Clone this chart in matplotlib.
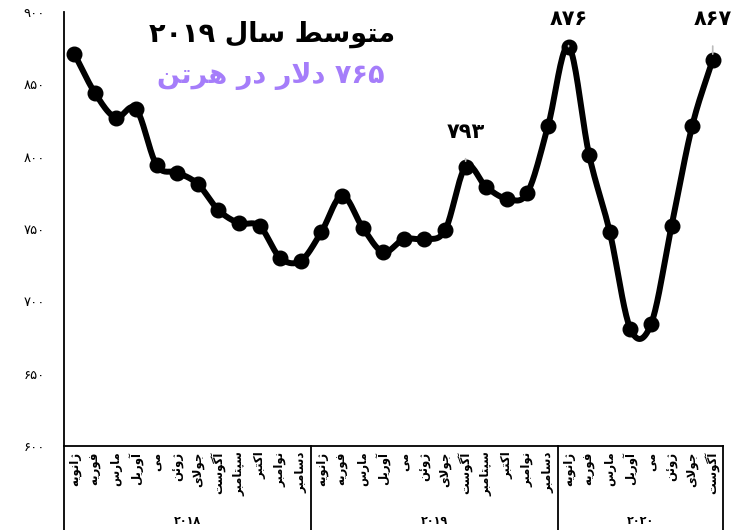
import re
import numpy as np
import matplotlib.pyplot as plt
from matplotlib.transforms import blended_transform_factory

months = ['ژانویه', 'فوریه', 'مارس', 'آوریل', 'می', 'ژوئن', 'جولای',
          'آگوست', 'سپتامبر', 'اکتبر', 'نوامبر', 'دسامبر']
years = ['2018', '2019', '2020']
months_per_year = [12, 12, 8]
prices = [871, 844, 827, 833, 794, 789, 781, 763, 754, 752, 730, 728,
          748, 773, 751, 734, 743, 743, 749, 793, 779, 771, 775, 821,
          876, 801, 748, 681, 684, 752, 821, 867]
labeled_points = [19, 24, 31]
label_raise = [25, 20, 29]  # points above the marker
title_line1 = 'متوسط سال 2019'
title_line2 = '765 دلار در هرتن'
y_ticks = [600, 650, 700, 750, 800, 850, 900]

# --- very small arabic shaper, matplotlib does not join letters itself ---
# isolated, final, initial, medial
FORMS = {
    'ا': (0xFE8D, 0xFE8E), 'آ': (0xFE81, 0xFE82),
    'د': (0xFEA9, 0xFEAA), 'ذ': (0xFEAB, 0xFEAC),
    'ر': (0xFEAD, 0xFEAE), 'ز': (0xFEAF, 0xFEB0),
    'ژ': (0xFB8A, 0xFB8B), 'و': (0xFEED, 0xFEEE),
    'ب': (0xFE8F, 0xFE90, 0xFE91, 0xFE92), 'پ': (0xFB56, 0xFB57, 0xFB58, 0xFB59),
    'ت': (0xFE95, 0xFE96, 0xFE97, 0xFE98), 'ج': (0xFE9D, 0xFE9E, 0xFE9F, 0xFEA0),
    'س': (0xFEB1, 0xFEB2, 0xFEB3, 0xFEB4), 'ط': (0xFEC1, 0xFEC2, 0xFEC3, 0xFEC4),
    'ف': (0xFED1, 0xFED2, 0xFED3, 0xFED4), 'ک': (0xFB8E, 0xFB8F, 0xFB90, 0xFB91),
    'گ': (0xFB92, 0xFB93, 0xFB94, 0xFB95), 'ل': (0xFEDD, 0xFEDE, 0xFEDF, 0xFEE0),
    'م': (0xFEE1, 0xFEE2, 0xFEE3, 0xFEE4), 'ن': (0xFEE5, 0xFEE6, 0xFEE7, 0xFEE8),
    'ه': (0xFEE9, 0xFEEA, 0xFEEB, 0xFEEC), 'ی': (0xFBFC, 0xFBFD, 0xFBFE, 0xFBFF),
    'ئ': (0xFE89, 0xFE8A, 0xFE8B, 0xFE8C),
}
LAM_ALEF = {'ا': (0xFEFB, 0xFEFC), 'آ': (0xFEF5, 0xFEF6)}
FA_DIGITS = str.maketrans('0123456789', '۰۱۲۳۴۵۶۷۸۹')


def dual(c):
    return c in FORMS and len(FORMS[c]) == 4


def shape(text):
    out = []
    i = 0
    while i < len(text):
        c = text[i]
        if c not in FORMS:
            out.append(c)
            i += 1
            continue
        prev = text[i - 1] if i > 0 else ''
        nxt = text[i + 1] if i + 1 < len(text) else ''
        jp = dual(prev)
        if c == 'ل' and nxt in LAM_ALEF:
            out.append(chr(LAM_ALEF[nxt][1 if jp else 0]))
            i += 2
            continue
        jn = dual(c) and nxt in FORMS
        f = FORMS[c]
        if jp and jn:
            out.append(chr(f[3]))
        elif jn:
            out.append(chr(f[2]))
        elif jp:
            out.append(chr(f[1]))
        else:
            out.append(chr(f[0]))
        i += 1
    return ''.join(out)


def fa(text):
    s = shape(str(text).translate(FA_DIGITS))
    runs = re.findall(r'[۰-۹]+|[^۰-۹]+', s)
    return ''.join(r if r[0] in '۰۱۲۳۴۵۶۷۸۹' else r[::-1] for r in reversed(runs))


def smooth(x, y, n=20):
    # catmull-rom curve through the points, like the spreadsheet "smoothed line"
    px = np.concatenate([[2 * x[0] - x[1]], x, [2 * x[-1] - x[-2]]])
    py = np.concatenate([[2 * y[0] - y[1]], y, [2 * y[-1] - y[-2]]])
    t = np.linspace(0, 1, n, endpoint=False)
    xs, ys = [], []
    for k in range(1, len(px) - 2):
        for p, store in ((px, xs), (py, ys)):
            p0, p1, p2, p3 = p[k - 1], p[k], p[k + 1], p[k + 2]
            store.append(0.5 * (2 * p1 + (-p0 + p2) * t
                                + (2 * p0 - 5 * p1 + 4 * p2 - p3) * t ** 2
                                + (-p0 + 3 * p1 - 3 * p2 + p3) * t ** 3))
    xs.append([x[-1]])
    ys.append([y[-1]])
    return np.concatenate(xs), np.concatenate(ys)


plt.rcParams['font.family'] = 'DejaVu Sans'

fig = plt.figure(figsize=(7.48, 5.30), dpi=100)
ax = fig.add_axes([0.0856, 0.1585, 0.881, 0.819])

x = np.arange(len(prices))
sx, sy = smooth(x.astype(float), np.array(prices, dtype=float))
ax.plot(sx, sy, color='black', lw=4.3, solid_capstyle='round', zorder=2)
ax.plot(x, prices, 'o', color='black', ms=10.5, zorder=3)

for i, up in zip(labeled_points, label_raise):
    ax.annotate(fa(prices[i]), xy=(i, prices[i]), xytext=(0, up),
                textcoords='offset points',
                ha='center', va='center', fontsize=15, fontweight='bold',
                arrowprops=dict(arrowstyle='-', color='#BBBBBB', lw=1.2,
                                shrinkA=10, shrinkB=4), annotation_clip=False)

ax.set_xlim(-0.5, len(prices) - 0.5)
ax.set_ylim(600, 900)
ax.set_yticks(y_ticks)
ax.set_yticklabels([fa(v) for v in y_ticks], fontsize=9.5)
ax.tick_params(axis='y', length=0, pad=14)

tick_names = []
for n in months_per_year:
    tick_names += months[:n]
ax.set_xticks(x)
ax.set_xticklabels([fa(m) for m in tick_names], rotation=90, fontsize=8.5,
                   fontweight='bold')
ax.tick_params(axis='x', length=0, pad=4)

ax.spines['top'].set_visible(False)
ax.spines['right'].set_visible(False)
ax.spines['left'].set_linewidth(1.3)
ax.spines['bottom'].set_linewidth(1.3)

# year groups under the month labels
tr = blended_transform_factory(ax.transData, ax.transAxes)
edges = np.concatenate([[0], np.cumsum(months_per_year)]) - 0.5
for e in edges:
    ax.plot([e, e], [0, -0.2], color='black', lw=1.3, transform=tr, clip_on=False)
for k, name in enumerate(years):
    ax.text((edges[k] + edges[k + 1]) / 2, -0.172, fa(name), transform=tr,
            ha='center', va='center', fontsize=8, fontweight='bold')

fig.text(395 / 748, 1 - 34 / 530, fa(title_line1), ha='right', va='center',
         fontsize=19.5, fontweight='bold', color='black')
fig.text(385 / 748, 1 - 76 / 530, fa(title_line2), ha='right', va='center',
         fontsize=19.5, fontweight='bold', color='#A57DFA')

fig.savefig('out.png', dpi=100)
